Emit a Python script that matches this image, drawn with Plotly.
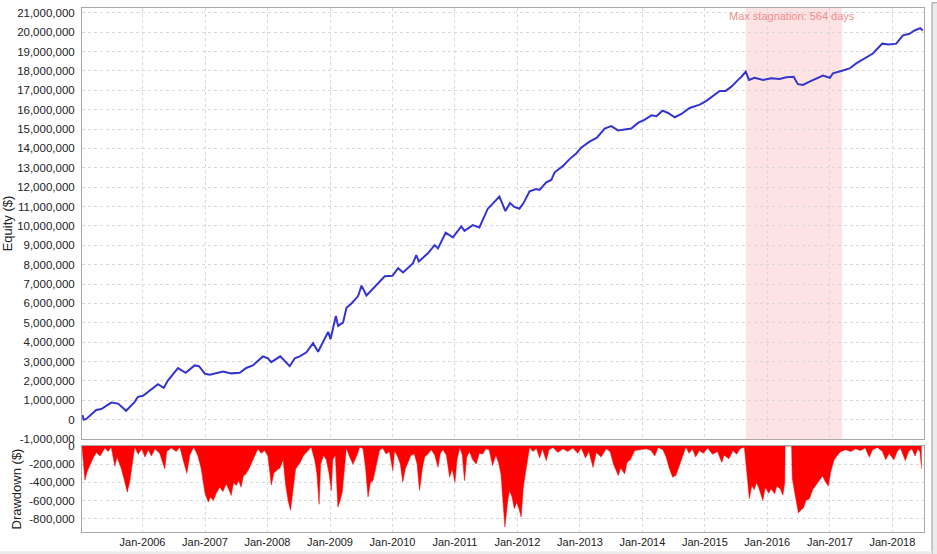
import plotly.graph_objects as go

# equity curve, values in millions of $
equity_dates = [
    "2005-01-15", "2005-01-22", "2005-02-06", "2005-04-05", "2005-05-05", "2005-07-02", "2005-08-11",
    "2005-09-27", "2005-11-16", "2005-12-05", "2006-01-04", "2006-02-12", "2006-04-01", "2006-05-05",
    "2006-05-30", "2006-07-27", "2006-09-10", "2006-11-01", "2006-11-27", "2007-01-01", "2007-01-30",
    "2007-04-17", "2007-06-04", "2007-07-23", "2007-08-30", "2007-10-08", "2007-12-05", "2008-01-04",
    "2008-01-23", "2008-03-16", "2008-05-10", "2008-06-09", "2008-07-08", "2008-08-16", "2008-09-24",
    "2008-10-23", "2008-11-12", "2008-12-21", "2009-01-04", "2009-02-04", "2009-02-17", "2009-03-18",
    "2009-04-07", "2009-05-06", "2009-06-14", "2009-07-04", "2009-08-02", "2009-09-29", "2009-11-17",
    "2010-01-01", "2010-02-03", "2010-03-04", "2010-05-01", "2010-05-20", "2010-06-04", "2010-07-27",
    "2010-09-04", "2010-09-24", "2010-11-08", "2010-12-20", "2011-02-07", "2011-02-26", "2011-04-15",
    "2011-05-24", "2011-07-12", "2011-08-10", "2011-09-18", "2011-10-23", "2011-11-19", "2011-12-14",
    "2012-01-13", "2012-02-06", "2012-03-12", "2012-04-20", "2012-05-10", "2012-06-18", "2012-07-17",
    "2012-08-06", "2012-09-24", "2012-11-01", "2012-12-10", "2013-01-08", "2013-02-26", "2013-04-10",
    "2013-05-25", "2013-07-03", "2013-08-11", "2013-09-19", "2013-10-28", "2013-12-06", "2014-01-15",
    "2014-02-23", "2014-03-24", "2014-04-28", "2014-05-31", "2014-07-09", "2014-08-17", "2014-10-04",
    "2014-12-02", "2015-01-10", "2015-02-18", "2015-03-29", "2015-05-03", "2015-06-05", "2015-07-14",
    "2015-08-03", "2015-08-28", "2015-09-16", "2015-10-19", "2015-12-07", "2016-01-24", "2016-03-13",
    "2016-04-21", "2016-06-03", "2016-06-28", "2016-07-27", "2016-09-04", "2016-10-23", "2016-11-21",
    "2017-01-01", "2017-01-19", "2017-03-08", "2017-04-26", "2017-06-04", "2017-08-01", "2017-09-09",
    "2017-11-03", "2017-12-11", "2018-01-24", "2018-03-04", "2018-04-11", "2018-05-11", "2018-06-13",
    "2018-06-28",
]
equity_musd = [
    0.24, 0.0, 0.04, 0.50, 0.55, 0.88, 0.83,
    0.46, 0.92, 1.18, 1.23, 1.52, 1.83, 1.64,
    2.03, 2.66, 2.42, 2.80, 2.76, 2.37, 2.32,
    2.49, 2.39, 2.42, 2.67, 2.80, 3.26, 3.17,
    2.97, 3.27, 2.76, 3.17, 3.27, 3.48, 3.95,
    3.51, 3.85, 4.53, 4.16, 5.35, 4.84, 5.01,
    5.78, 6.00, 6.38, 6.92, 6.41, 6.92, 7.40,
    7.43, 7.82, 7.60, 8.08, 8.50, 8.16, 8.59,
    9.01, 8.84, 9.65, 9.41, 9.98, 9.75, 10.04,
    9.92, 10.89, 11.15, 11.52, 10.77, 11.18, 10.98,
    10.89, 11.18, 11.79, 11.91, 11.86, 12.25, 12.37,
    12.77, 13.10, 13.45, 13.74, 14.04, 14.35, 14.56,
    15.03, 15.15, 14.93, 14.98, 15.03, 15.32, 15.49,
    15.71, 15.66, 15.95, 15.83, 15.61, 15.78, 16.09,
    16.26, 16.46, 16.73, 16.97, 16.97, 17.19, 17.54,
    17.70, 17.96, 17.54, 17.65, 17.54, 17.62, 17.59,
    17.67, 17.70, 17.32, 17.28, 17.45, 17.65, 17.76,
    17.65, 17.88, 18.00, 18.13, 18.39, 18.68, 18.90,
    19.41, 19.36, 19.41, 19.84, 19.92, 20.09, 20.21,
    20.09,
]

# drawdown, values in thousands of $
dd_dates = [
    "2005-01-12", "2005-01-29", "2005-02-11", "2005-02-28", "2005-03-18", "2005-04-06", "2005-04-27",
    "2005-05-26", "2005-06-13", "2005-07-02", "2005-07-23", "2005-08-05", "2005-08-30", "2005-09-20",
    "2005-10-04", "2005-10-19", "2005-11-03", "2005-11-16", "2005-12-06", "2005-12-27", "2006-01-15",
    "2006-02-03", "2006-02-22", "2006-03-14", "2006-04-11", "2006-05-11", "2006-05-22", "2006-06-18",
    "2006-07-17", "2006-08-07", "2006-08-26", "2006-09-17", "2006-10-04", "2006-10-27", "2006-11-21",
    "2006-12-10", "2007-01-01", "2007-01-20", "2007-02-03", "2007-02-18", "2007-03-08", "2007-03-28",
    "2007-04-16", "2007-05-05", "2007-05-21", "2007-06-03", "2007-06-17", "2007-07-02", "2007-07-17",
    "2007-07-31", "2007-08-13", "2007-08-28", "2007-09-15", "2007-09-27", "2007-10-18", "2007-11-06",
    "2007-11-25", "2007-12-15", "2008-01-04", "2008-01-24", "2008-02-07", "2008-02-22", "2008-03-14",
    "2008-04-02", "2008-04-16", "2008-05-01", "2008-05-15", "2008-05-29", "2008-06-14", "2008-07-08",
    "2008-07-31", "2008-08-26", "2008-09-13", "2008-10-04", "2008-10-16", "2008-10-29", "2008-11-07",
    "2008-11-24", "2008-12-10", "2008-12-26", "2009-01-08", "2009-01-17", "2009-02-01", "2009-02-16",
    "2009-03-01", "2009-03-14", "2009-03-28", "2009-04-06", "2009-04-26", "2009-05-15", "2009-06-03",
    "2009-06-24", "2009-07-13", "2009-07-28", "2009-08-11", "2009-08-25", "2009-09-09", "2009-09-28",
    "2009-10-17", "2009-11-05", "2009-11-24", "2009-12-14", "2010-01-03", "2010-01-13", "2010-02-02",
    "2010-02-16", "2010-03-02", "2010-03-17", "2010-03-31", "2010-04-19", "2010-05-09", "2010-05-25",
    "2010-06-08", "2010-06-24", "2010-07-08", "2010-07-27", "2010-08-16", "2010-09-05", "2010-09-24",
    "2010-10-08", "2010-10-23", "2010-11-12", "2010-12-01", "2010-12-16", "2011-01-01", "2011-01-13",
    "2011-01-29", "2011-02-13", "2011-02-26", "2011-03-11", "2011-03-27", "2011-04-15", "2011-05-05",
    "2011-05-24", "2011-06-12", "2011-07-01", "2011-07-20", "2011-08-09", "2011-08-28", "2011-09-13",
    "2011-09-27", "2011-10-10", "2011-10-20", "2011-11-06", "2011-11-16", "2011-12-01", "2011-12-14",
    "2011-12-28", "2012-01-09", "2012-01-23", "2012-02-05", "2012-02-17", "2012-03-02", "2012-03-12",
    "2012-04-01", "2012-04-21", "2012-05-10", "2012-05-26", "2012-06-18", "2012-07-04", "2012-07-27",
    "2012-08-25", "2012-09-23", "2012-10-22", "2012-11-20", "2012-12-19", "2013-01-08", "2013-02-02",
    "2013-02-22", "2013-03-18", "2013-04-06", "2013-05-05", "2013-06-03", "2013-06-26", "2013-07-16",
    "2013-07-31", "2013-08-13", "2013-08-27", "2013-09-19", "2013-10-03", "2013-10-22", "2013-11-17",
    "2013-12-16", "2014-01-24", "2014-02-21", "2014-03-14", "2014-04-02", "2014-05-01", "2014-05-20",
    "2014-06-08", "2014-06-27", "2014-07-16", "2014-08-04", "2014-08-24", "2014-09-12", "2014-10-01",
    "2014-10-20", "2014-11-08", "2014-11-30", "2014-12-23", "2015-01-17", "2015-02-15", "2015-03-16",
    "2015-04-10", "2015-04-23", "2015-05-22", "2015-06-14", "2015-07-06", "2015-07-25", "2015-08-20",
    "2015-09-02", "2015-09-18", "2015-10-03", "2015-10-16", "2015-10-30", "2015-11-14", "2015-12-06",
    "2015-12-20", "2016-01-09", "2016-01-23", "2016-02-13", "2016-02-25", "2016-03-17", "2016-04-01",
    "2016-04-12", "2016-04-14", "2016-05-22", "2016-05-26", "2016-06-08", "2016-06-22", "2016-07-01",
    "2016-07-17", "2016-07-30", "2016-08-14", "2016-09-03", "2016-09-22", "2016-10-11", "2016-10-30",
    "2016-11-19", "2016-12-08", "2016-12-23", "2017-01-06", "2017-01-26", "2017-02-14", "2017-03-06",
    "2017-04-03", "2017-05-02", "2017-05-31", "2017-06-29", "2017-07-27", "2017-08-19", "2017-09-07",
    "2017-10-06", "2017-11-04", "2017-11-23", "2017-12-13", "2018-01-10", "2018-01-29", "2018-02-17",
    "2018-03-18", "2018-04-06", "2018-04-25", "2018-05-14", "2018-05-29", "2018-06-11", "2018-06-21",
]
dd_kusd = [
    0, -375, -280, -200, -130, -70, -110,
    -20, -60, -10, -220, -120, -250, -400,
    -507, -380, -200, -10, -90, -30, -120,
    -40, -110, -30, -80, -250, -60, -20,
    -60, -10, -150, -300, -100, -10, -110,
    -250, -520, -616, -560, -600, -520, -452,
    -500, -416, -480, -543, -400, -434, -380,
    -452, -330, -306, -250, -197, -100, -30,
    -80, -50, -110, -430, -300, -270, -240,
    -150, -420, -600, -707, -500, -250, -190,
    -100, -50, -10, -160, -300, -640, -200,
    -100, -150, -300, -490, -150, -100, -671,
    -600, -500, -200, -20, -120, -200, -120,
    -10, -30, -250, -560, -400, -380, -230,
    -50, -20, -88, -60, -270, -50, -124,
    -200, -397, -250, -180, -100, -88, -200,
    -489, -250, -120, -88, -40, -100, -234,
    -80, -40, -100, -343, -250, -397, -150,
    -15, -100, -380, -120, -60, -150, -197,
    -80, -88, -30, -40, -215, -100, -180,
    -306, -600, -889, -600, -489, -560, -689,
    -620, -680, -780, -450, -300, -142, -15,
    -60, -25, -130, -30, -160, -40, -15,
    -70, -30, -60, -20, -80, -20, -130,
    -60, -234, -70, -120, -30, -60, -200,
    -260, -325, -240, -306, -180, -150, -50,
    -40, -30, -50, -110, -15, -40, -124,
    -250, -343, -320, -220, -100, -10, -80,
    -30, -120, -50, -80, -20, -90, -60,
    -180, -100, -140, -50, -90, -30, -10,
    -300, -580, -430, -480, -400, -470, -598,
    -450, -520, -470, -525, -440, -470, -540,
    -400, 0, 0, -350, -500, -650, -735,
    -700, -680, -600, -580, -480, -430, -380,
    -330, -400, -440, -280, -150, -100, -60,
    -40, -60, -30, -50, -20, -124, -40,
    -15, -60, -150, -80, -150, -60, -20,
    -160, -60, -30, -110, -30, -60, -250,
]

stagnation_start = "2015-08-28"
stagnation_end = "2017-03-14"
stagnation_days = 564

eq_ticks = list(range(-1_000_000, 21_000_001, 1_000_000))
dd_ticks = list(range(-800_000, 1, 200_000))

font = "Liberation Sans, Arial, sans-serif"
grid = "#d9d9d9"
frame = "#a8a8a8"

fig = go.Figure()

fig.add_trace(go.Scatter(
    x=equity_dates, y=[v * 1e6 for v in equity_musd],
    mode="lines", line=dict(color="#3434d2", width=2),
    xaxis="x", yaxis="y", showlegend=False
))
fig.add_trace(go.Scatter(
    x=dd_dates, y=[v * 1e3 for v in dd_kusd],
    mode="lines", fill="tozeroy", fillcolor="#ff0000",
    line=dict(color="#ff0000", width=0.5),
    xaxis="x2", yaxis="y2", showlegend=False
))

fig.add_shape(type="rect", xref="x", yref="y domain",
              x0=stagnation_start, x1=stagnation_end, y0=0, y1=1,
              fillcolor="#fde3e3", line=dict(width=0), layer="below")
fig.add_annotation(xref="x", yref="y domain",
                   x="2016-05-22", y=1.0, yanchor="top",
                   text=f"Max stagnation: {stagnation_days} days",
                   showarrow=False, font=dict(size=11, color="#f08c8c", family=font))

# window strip on the right / bottom of the screenshot
fig.add_shape(type="rect", xref="paper", yref="paper",
              x0=1.0095, x1=1.03, y0=-0.06, y1=1.01,
              fillcolor="#ececec", line=dict(color="#9a9a9a", width=1))
fig.add_shape(type="rect", xref="paper", yref="paper",
              x0=-0.1, x1=1.0095, y0=-0.0365, y1=-0.06,
              fillcolor="#ececec", line=dict(width=0))

xcommon = dict(
    type="date", range=["2005-01-12", "2018-07-05"],
    tick0="2006-01-01", dtick="M12", tickformat="%b-%Y",
    showgrid=True, gridcolor=grid, griddash="dot", gridwidth=1,
    showline=True, linecolor=frame, mirror=True,
    ticks="", zeroline=False,
)

ytick_font = dict(size=11.5, color="#222222")

fig.update_layout(
    width=937, height=554,
    margin=dict(l=82, r=13, t=2, b=22),
    paper_bgcolor="white", plot_bgcolor="white",
    font=dict(family=font, size=11, color="#222222"),
    showlegend=False,
    xaxis=dict(**xcommon, matches="x2", showticklabels=False, anchor="y"),
    xaxis2=dict(**xcommon, anchor="y2", tickfont=dict(size=11, color="#222222")),
    yaxis=dict(
        domain=[0.1774, 1.0], range=[-1_000_000, 21_250_000],
        tickvals=eq_ticks, ticktext=[f"{v:,}" for v in eq_ticks],
        tickfont=ytick_font, ticklabelstandoff=4,
        showgrid=True, gridcolor=grid, griddash="dot",
        showline=True, linecolor=frame, mirror=True, zeroline=False,
        ticks="",
        title=dict(text="Equity ($)", font=dict(size=13, color="#222222"), standoff=4),
    ),
    yaxis2=dict(
        domain=[0.0, 0.164], range=[-945_000, 0],
        tickvals=dd_ticks, ticktext=[f"{v:,}" for v in dd_ticks],
        tickfont=ytick_font, ticklabelstandoff=4,
        showgrid=True, gridcolor=grid, griddash="dot",
        showline=True, linecolor=frame, mirror=True, zeroline=False,
        ticks="",
        title=dict(text="Drawdown ($)", font=dict(size=13, color="#222222"), standoff=4),
    ),
)

fig.write_html("out.html", config={"displayModeBar": False},
               post_script="document.body.style.margin='0';")
